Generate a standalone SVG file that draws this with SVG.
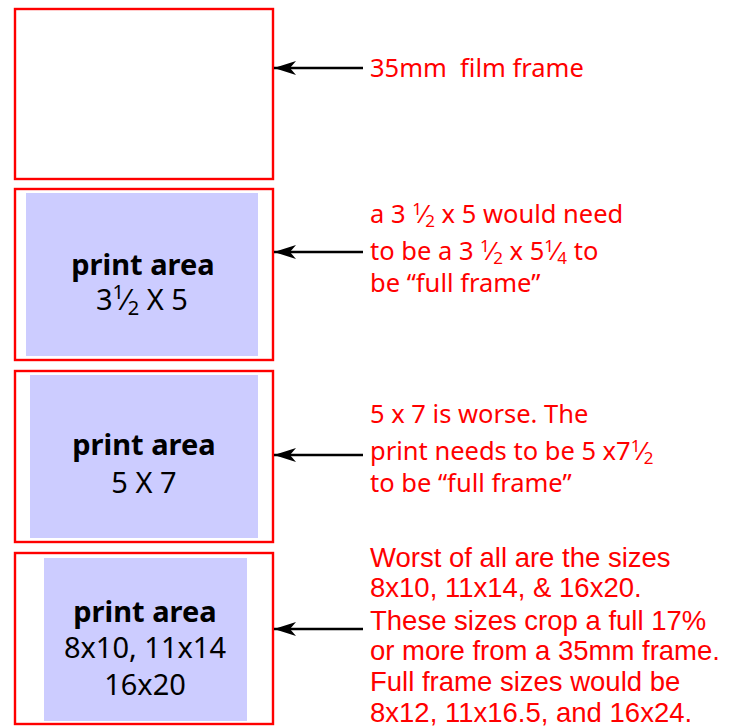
<svg xmlns="http://www.w3.org/2000/svg" width="735" height="726" viewBox="0 0 735 726">
<style>
.frame{fill:#fff;stroke:#ff0000;stroke-width:2.4}
.print{fill:#ccccff}
.lbl{font-family:"Noto Sans","Open Sans",sans-serif;font-size:29px;fill:#000;text-anchor:middle}
.b{font-weight:bold}
.note{font-family:"Noto Sans","Open Sans",sans-serif;font-size:25.5px;fill:#ff0000}
.note2{font-family:"Liberation Sans",Arial,sans-serif;font-size:27.5px;fill:#ff0000}
.con{stroke:#000;stroke-width:2.6;fill:none}
.fr{font-size:17px}
.lfr{font-size:20px}
</style>
<defs>
<marker id="ah" markerWidth="23" markerHeight="15" refX="22" refY="7" orient="auto" markerUnits="userSpaceOnUse">
<path d="M22,7 L0,0 L6,7 L0,14 Z" fill="#000"/>
</marker>
</defs>
<g id="n1">
<rect class="frame" x="15" y="9" width="258" height="170"/>
</g>
<g id="n2">
<rect class="frame" x="15" y="189" width="258" height="171"/>
<rect class="print" x="26" y="193" width="232" height="163"/>
<text class="lbl b" x="143" y="275">print area</text>
<text class="lbl" x="142" y="310">3<tspan class="lfr" dy="-11">1</tspan><tspan dy="11">⁄</tspan><tspan class="lfr" dy="5">2</tspan><tspan dy="-5"> X 5</tspan></text>
</g>
<g id="n3">
<rect class="frame" x="15" y="371" width="258" height="171"/>
<rect class="print" x="30" y="375" width="228" height="163"/>
<text class="lbl b" x="144" y="455">print area</text>
<text class="lbl" x="144" y="493">5 X 7</text>
</g>
<g id="n4">
<rect class="frame" x="15" y="553" width="258" height="171"/>
<rect class="print" x="44" y="558" width="203" height="163"/>
<text class="lbl b" x="145" y="622">print area</text>
<text class="lbl" x="145" y="658">8x10, 11x14</text>
<text class="lbl" x="145" y="695">16x20</text>
</g>
<g id="connectors">
<line class="con" x1="363" y1="68" x2="274" y2="68" marker-end="url(#ah)"/>
<line class="con" x1="363" y1="252" x2="274" y2="252" marker-end="url(#ah)"/>
<line class="con" x1="363" y1="455" x2="274" y2="455" marker-end="url(#ah)"/>
<line class="con" x1="363" y1="629" x2="274" y2="629" marker-end="url(#ah)"/>
</g>
<g id="notes">
<text class="note" x="370" y="77" xml:space="preserve">35mm  film frame</text>
<text class="note" x="370" y="223">a 3 <tspan class="fr" dy="-8">1</tspan><tspan dy="8">⁄</tspan><tspan class="fr" dy="4">2</tspan><tspan dy="-4"> x 5 would need</tspan></text>
<text class="note" x="370" y="260">to be a 3 <tspan class="fr" dy="-8">1</tspan><tspan dy="8">⁄</tspan><tspan class="fr" dy="4">2</tspan><tspan dy="-4"> x 5</tspan><tspan class="fr" dy="-8">1</tspan><tspan dy="8">⁄</tspan><tspan class="fr" dy="4">4</tspan><tspan dy="-4"> to</tspan></text>
<text class="note" x="370" y="292">be “full frame”</text>
<text class="note" x="370" y="423">5 x 7 is worse. The</text>
<text class="note" x="370" y="460">print needs to be 5 x7<tspan class="fr" dy="-8">1</tspan><tspan dy="8">⁄</tspan><tspan class="fr" dy="4">2</tspan></text>
<text class="note" x="370" y="492">to be “full frame”</text>
<text class="note2" x="370" y="567">Worst of all are the sizes</text>
<text class="note2" x="370" y="597">8x10, 11x14, &amp; 16x20.</text>
<text class="note2" x="370" y="630">These sizes crop a full 17%</text>
<text class="note2" x="370" y="660">or more from a 35mm frame.</text>
<text class="note2" x="370" y="691">Full frame sizes would be</text>
<text class="note2" x="370" y="722">8x12, 11x16.5, and 16x24.</text>
</g>
</svg>
